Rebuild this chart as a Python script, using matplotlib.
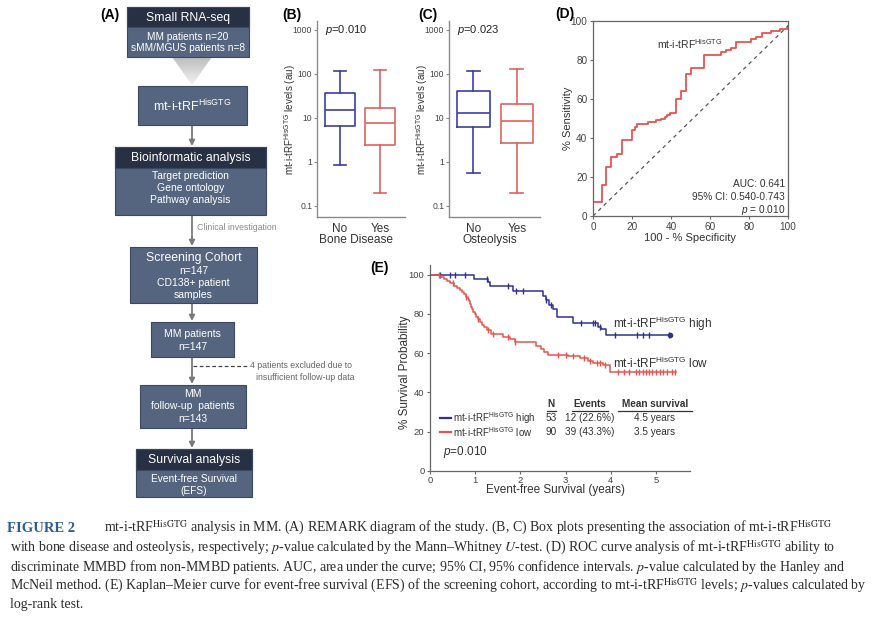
import numpy as np
import matplotlib
matplotlib.use('Agg')
import matplotlib.pyplot as plt
from matplotlib.patches import Rectangle, Polygon

plt.rcParams['font.family'] = ['Liberation Sans', 'DejaVu Sans']
plt.rcParams['mathtext.fontset'] = 'custom'
plt.rcParams['mathtext.rm'] = 'Liberation Sans'
plt.rcParams['mathtext.it'] = 'Liberation Sans:italic'
plt.rcParams['mathtext.bf'] = 'Liberation Sans:bold'

# ---------------- DATA ----------------
SUP = r'mt-i-tRF$^{\mathrm{HisGTG}}$'

flow_headers = ['Small RNA-seq', None, 'Bioinformatic analysis', None, None, None, 'Survival analysis']
flow_bodies = [
    ['MM patients n=20', 'sMM/MGUS patients n=8'],
    [SUP],
    ['Target prediction', 'Gene ontology', 'Pathway analysis'],
    ['Screening Cohort', 'n=147', 'CD138+ patient', 'samples'],
    ['MM patients', 'n=147'],
    ['MM', 'follow-up  patients', 'n=143'],
    ['Event-free Survival', '(EFS)'],
]
note_clinical = 'Clinical investigation'
note_excluded = ['4 patients excluded due to', 'insufficient follow-up data']

box_groups = ['No', 'Yes']
bone_med = [15.2, 7.6]
bone_q1 = [6.6, 2.4]
bone_q3 = [37.6, 16.6]
bone_lo = [0.86, 0.20]
bone_hi = [115, 121]
bone_p = r'$p$=0.010'

osteo_med = [13.2, 8.5]
osteo_q1 = [6.1, 2.66]
osteo_q3 = [41.7, 20.5]
osteo_lo = [0.55, 0.20]
osteo_hi = [113, 127]
osteo_p = r'$p$=0.023'

roc_x = [0, 0, 4.8, 6.8, 9.4, 12.3, 14.9, 20.2, 21.4, 22.6, 28.2, 32.5, 35.0, 36.8, 38.0,
         39.7, 42.7, 45.3, 47.9, 50.4, 56.8, 65.8, 68.4, 71.0, 73.5, 81.2, 83.8, 86.7,
         91.5, 95.7, 100]
roc_y = [0, 7.2, 15.7, 25.1, 30.3, 31.6, 39.0, 43.9, 45.5, 47.0, 48.0, 49.0, 50.0, 51.0, 52.0,
         53.0, 59.8, 64.1, 72.6, 76.0, 82.4, 84.0, 85.0, 86.0, 89.2, 91.0, 92.0, 94.0,
         95.0, 96.0, 97.5]
diag_x = [0, 100]
diag_y = [0, 97.5]
roc_stats = ['AUC: 0.641', '95% CI: 0.540-0.743', r'$p$ = 0.010']

high_t = [0, 0.98, 1.28, 1.33, 1.84, 2.50, 2.57, 2.63, 2.72, 2.80, 3.17, 3.71, 3.79, 3.90, 5.30]
high_s = [100, 98.1, 96.2, 94.1, 91.5, 89.3, 87.0, 84.7, 82.3, 78.5, 75.6, 73.6, 72.2, 69.3, 69.3]
high_cens = [0.22, 0.44, 0.55, 0.77, 1.27, 1.73, 1.91, 2.06, 2.57, 2.68, 3.35, 3.60, 3.66,
             3.75, 4.10, 4.57, 4.70, 4.85, 5.28]

low_t = [0, 0.22, 0.30, 0.38, 0.45, 0.52, 0.60, 0.66, 0.71, 0.75, 0.79, 0.83, 0.86, 0.88,
         0.91, 0.93, 0.96, 0.99, 1.02, 1.06, 1.10, 1.15, 1.20, 1.26, 1.34, 1.62, 1.76, 1.88,
         2.35, 2.45, 2.52, 2.60, 3.05, 3.31, 3.50, 3.60, 3.82, 3.97, 5.44]
low_s = [100, 98.9, 97.8, 96.7, 95.6, 94.4, 93.3, 92.2, 91.1, 90.0, 88.9, 87.7, 86.4, 85.1,
         83.8, 82.5, 81.2, 79.9, 78.6, 77.3, 76.0, 74.6, 73.3, 71.9, 69.7, 68.4, 67.1, 65.7,
         63.8, 62.3, 60.8, 59.3, 58.3, 57.4, 56.2, 54.9, 54.0, 50.6, 50.6]
low_cens = [0.20, 0.50, 0.80, 1.07, 1.29, 1.40, 1.73, 1.88, 2.83, 3.00, 3.16, 3.40, 3.53,
            3.70, 3.75, 3.88, 4.15, 4.30, 4.40, 4.55, 4.62, 4.70, 4.78, 4.85, 4.92, 5.00,
            5.08, 5.15, 5.25, 5.35, 5.42]

km_groups = ['high', 'low']
km_N = [53, 90]
km_events = ['12 (22.6%)', '39 (43.3%)']
km_mean = ['4.5 years', '3.5 years']
km_p = r'$p$=0.010'

caption_lines = [
    r"mt-i-tRF$^{\mathrm{HisGTG}}$ analysis in MM. (A) REMARK diagram of the study. (B, C) Box plots presenting the association of mt-i-tRF$^{\mathrm{HisGTG}}$",
    r"with bone disease and osteolysis, respectively; $p$-value calculated by the Mann–Whitney $U$-test. (D) ROC curve analysis of mt-i-tRF$^{\mathrm{HisGTG}}$ ability to",
    r"discriminate MMBD from non-MMBD patients. AUC, area under the curve; 95% CI, 95% confidence intervals. $p$-value calculated by the Hanley and",
    r"McNeil method. (E) Kaplan–Meier curve for event-free survival (EFS) of the screening cohort, according to mt-i-tRF$^{\mathrm{HisGTG}}$ levels; $p$-values calculated by",
    r"log-rank test.",
]

# ---------------- STYLE / LAYOUT ----------------
W, H = 883, 618
BLUE = '#2e3192'
RED = '#e8534f'
BLUE_BOX = '#3b3fa6'
RED_BOX = '#e06262'
HEAD = '#283043'
BODY = '#56657f'
EDGE = '#3c4760'
GRAY = '#7a7a7a'

fig = plt.figure(figsize=(W / 100, H / 100), dpi=100)
ov = fig.add_axes([0, 0, 1, 1])
ov.set_xlim(0, W)
ov.set_ylim(H, 0)
ov.axis('off')


def add_ax(x0, y0, x1, y1):
    a = fig.add_axes([x0 / W, 1 - y1 / H, (x1 - x0) / W, (y1 - y0) / H])
    a.set_facecolor('none')
    return a


# ---------------- (A) flowchart ----------------
ov.text(100, 15, '(A)', fontsize=10, fontweight='bold', va='center', ha='left')
# (x0, y0, x1, y1, header height, line y positions, line font sizes)
flow_layout = [
    (127, 7, 249, 57, 20, [37, 48], [7.3, 7.3]),
    (138, 86, 247, 125, 0, [105.5], [9]),
    (115, 147, 266, 215, 21, [176, 188, 200], [7.5, 7.5, 7.5]),
    (130, 247, 257, 303, 0, [258, 271, 283, 295], [8.8, 7.5, 7.5, 7.5]),
    (151, 322, 234, 357, 0, [334, 347], [7.5, 7.5]),
    (140, 385, 246, 428, 0, [394, 406, 419], [7.5, 7.5, 7.5]),
    (136, 449, 252, 497, 21, [479, 491], [7.3, 7.3]),
]
for hdr, body, lay in zip(flow_headers, flow_bodies, flow_layout):
    x0, y0, x1, y1, hh, ys, fss = lay
    ov.add_patch(Rectangle((x0, y0), x1 - x0, y1 - y0, facecolor=BODY, edgecolor=EDGE, lw=0.8, zorder=2))
    if hdr:
        ov.add_patch(Rectangle((x0, y0), x1 - x0, hh, facecolor=HEAD, edgecolor=EDGE, lw=0.8, zorder=3))
        ov.text((x0 + x1) / 2, y0 + hh / 2 + 0.5, hdr, color='white', fontsize=8.8, ha='center', va='center', zorder=4)
    for t, yy, fs in zip(body, ys, fss):
        ov.text((x0 + x1) / 2, yy, t, color='white', fontsize=fs, ha='center', va='center', zorder=4)

# funnel triangle with gradient
tri = Polygon([(172, 57), (212, 57), (192, 85)], closed=True, facecolor='none', edgecolor='none')
ov.add_patch(tri)
grad = np.linspace(0, 1, 64).reshape(-1, 1)
im = ov.imshow(grad, extent=[172, 212, 85, 57], cmap=matplotlib.colors.LinearSegmentedColormap.from_list(
    'g', ['#bdbdbd', '#f2f2f2']), aspect='auto', zorder=1, origin='upper')
im.set_clip_path(tri)

# arrows
arrow_segs = [(192, 125, 146), (192, 215, 246), (192, 303, 321), (192, 357, 384), (192, 428, 448)]
for x, ya, yb in arrow_segs:
    ov.annotate('', xy=(x, yb), xytext=(x, ya),
                arrowprops=dict(arrowstyle='-|>', color=GRAY, lw=1.3, mutation_scale=8,
                                shrinkA=0, shrinkB=0), zorder=1)
ov.text(197, 227, note_clinical, fontsize=6.3, color='#8a8a8a', ha='left', va='center')
ov.plot([193, 247], [366, 366], ls=(0, (3, 2)), color='#444', lw=0.9)
ov.text(250, 366, note_excluded[0], fontsize=6.3, color='#666', ha='left', va='center')
ov.text(256, 378, note_excluded[1], fontsize=6.3, color='#666', ha='left', va='center')


# ---------------- (B), (C) box plots ----------------
def boxpanel(x0, x1, meds, q1s, q3s, los, his, ptxt, xlabel, label, lims, ylab_x):
    ax = add_ax(x0, 21, x1, 217)
    stats = [dict(med=m, q1=a, q3=b, whislo=lo, whishi=hi, fliers=[], label=g)
             for m, a, b, lo, hi, g in zip(meds, q1s, q3s, los, his, box_groups)]
    bp = ax.bxp(stats, positions=[1, 2], widths=0.74, showfliers=False, capwidths=0.3)
    for i, c in enumerate([BLUE_BOX, RED_BOX]):
        for art in [bp['boxes'][i], bp['medians'][i], bp['whiskers'][2 * i], bp['whiskers'][2 * i + 1],
                    bp['caps'][2 * i], bp['caps'][2 * i + 1]]:
            art.set_color(c)
            art.set_linewidth(1.2)
    ax.set_yscale('log')
    ax.set_ylim(0.056, 1585)
    ax.set_yticks([0.1, 1, 10, 100, 1000])
    ax.set_yticklabels(['0.1', '1', '10', '100', '1000'])
    ax.yaxis.set_minor_locator(matplotlib.ticker.NullLocator())
    ax.set_xlim(*lims)
    for s in ['top', 'right']:
        ax.spines[s].set_visible(False)
    for s in ['left', 'bottom']:
        ax.spines[s].set_color('#8a8a8a')
        ax.spines[s].set_linewidth(1.0)
    ax.tick_params(axis='y', labelsize=6.2, length=2.5, color='#8a8a8a', labelcolor='#444', pad=1)
    ax.tick_params(axis='x', labelsize=8.5, length=0, labelcolor='#333', pad=4)
    ax.text(0.09, 0.955, ptxt, transform=ax.transAxes, fontsize=8, ha='left', va='center', color='#222')
    ov.text((x0 + x1) / 2 - 5, 240, xlabel, fontsize=8.6, ha='center', va='center', color='#333')
    ov.text(ylab_x, 120, SUP + ' levels (au)', fontsize=7.1, rotation=90, ha='center', va='center', color='#333')
    ov.text(label[1], 15, label[0], fontsize=10, fontweight='bold', ha='left', va='center')
    return ax


boxpanel(317, 405, bone_med, bone_q1, bone_q3, bone_lo, bone_hi, bone_p, 'Bone Disease', ('(B)', 282),
         (0.425, 2.625), 290)
boxpanel(449, 540, osteo_med, osteo_q1, osteo_q3, osteo_lo, osteo_hi, osteo_p, 'Osteolysis', ('(C)', 418),
         (0.437, 2.53), 422)

# ---------------- (D) ROC ----------------
axD = add_ax(593, 21, 788, 216)
axD.step(roc_x, roc_y, where='post', color=RED, lw=1.3)
axD.plot(diag_x, diag_y, ls=(0, (3, 3)), color='#555', lw=0.9)
axD.set_xlim(0, 100)
axD.set_ylim(0, 100)
axD.set_xticks(range(0, 101, 20))
axD.set_yticks(range(0, 101, 20))
for s in axD.spines.values():
    s.set_color('#666')
    s.set_linewidth(0.9)
axD.tick_params(labelsize=7.2, length=2.5, color='#666', labelcolor='#444', pad=1.5)
axD.text(0.33, 0.88, SUP, transform=axD.transAxes, fontsize=7.5, ha='left', va='center', color='#333')
for i, t in enumerate(roc_stats):
    axD.text(0.985, 0.165 - i * 0.068, t, transform=axD.transAxes, fontsize=7.3, ha='right', va='center', color='#333')
ov.text(568, 118, '% Sensitivity', fontsize=8, rotation=90, ha='center', va='center', color='#333')
ov.text(690, 238, '100 - % Specificity', fontsize=8, ha='center', va='center', color='#333')
ov.text(555, 14, '(D)', fontsize=10, fontweight='bold', ha='left', va='center')

# ---------------- (E) Kaplan-Meier ----------------
axE = add_ax(430, 265, 690, 470.7)
for t, s, cens, c in [(high_t, high_s, high_cens, BLUE), (low_t, low_s, low_cens, RED)]:
    t = np.asarray(t)
    s = np.asarray(s)
    axE.step(t, s, where='post', color=c, lw=1.1)
    idx = np.searchsorted(t, cens, side='right') - 1
    axE.plot(cens, s[idx], ls='none', marker='|', ms=4, mew=1.0, color=c)
axE.plot([high_t[-1]], [high_s[-1]], 'o', ms=3, color=BLUE)
axE.set_xlim(0, 5.75)
axE.set_ylim(0, 105)
axE.set_xticks(range(0, 6))
axE.set_yticks(range(0, 101, 20))
for s in ['top', 'right']:
    axE.spines[s].set_visible(False)
for s in ['left', 'bottom']:
    axE.spines[s].set_color('#666')
    axE.spines[s].set_linewidth(0.9)
axE.tick_params(labelsize=6.8, length=2.5, color='#666', labelcolor='#444', pad=1.5)
ov.text(370, 268, '(E)', fontsize=10, fontweight='bold', ha='left', va='center')
ov.text(405, 372, '% Survival Probability', fontsize=8.5, rotation=90, ha='center', va='center', color='#333')
ov.text(555, 490, 'Event-free Survival (years)', fontsize=8.5, ha='center', va='center', color='#333')
ov.text(613, 324, SUP + ' high', fontsize=8.5, ha='left', va='center', color='#333')
ov.text(613, 363, SUP + ' low', fontsize=8.5, ha='left', va='center', color='#333')

# table
hdr_y, row_y = 404, [418, 432]
for txt, x, (u0, u1) in [('N', 551, (547, 556)), ('Events', 590, (572, 608)), ('Mean survival', 655, (618, 692))]:
    ov.text(x, hdr_y, txt, fontsize=7.2, fontweight='bold', ha='center', va='center', color='#333')
    ov.plot([u0, u1], [411, 411], color='#333', lw=0.9)
for g, n, ev, mn, yy, c in zip(km_groups, km_N, km_events, km_mean, row_y, [BLUE, RED]):
    ov.plot([440, 451], [yy, yy], color=c, lw=1.6)
    ov.text(453, yy, SUP + ' ' + g, fontsize=7, ha='left', va='center', color='#333')
    ov.text(551, yy, str(n), fontsize=7.2, ha='center', va='center', color='#333')
    ov.text(590, yy, ev, fontsize=7.2, ha='center', va='center', color='#333')
    ov.text(655, yy, mn, fontsize=7.2, ha='center', va='center', color='#333')
ov.text(443, 452, km_p, fontsize=8.5, ha='left', va='center', color='#333')

# ---------------- caption ----------------
ov.text(7, 528, 'FIGURE 2', fontsize=10.5, fontweight='bold', family='Liberation Serif',
        color='#2f5b93', ha='left', va='center')
cap_x = [104, 10, 10, 10, 10]
cap_y = [528, 547.5, 566.5, 585.5, 604.5]
for t, x, y in zip(caption_lines, cap_x, cap_y):
    ov.text(x, y, t, fontsize=10.0, family='Liberation Serif', math_fontfamily='stix',
            color='#2b2b2b', ha='left', va='center')

fig.savefig('out.png', dpi=100)
